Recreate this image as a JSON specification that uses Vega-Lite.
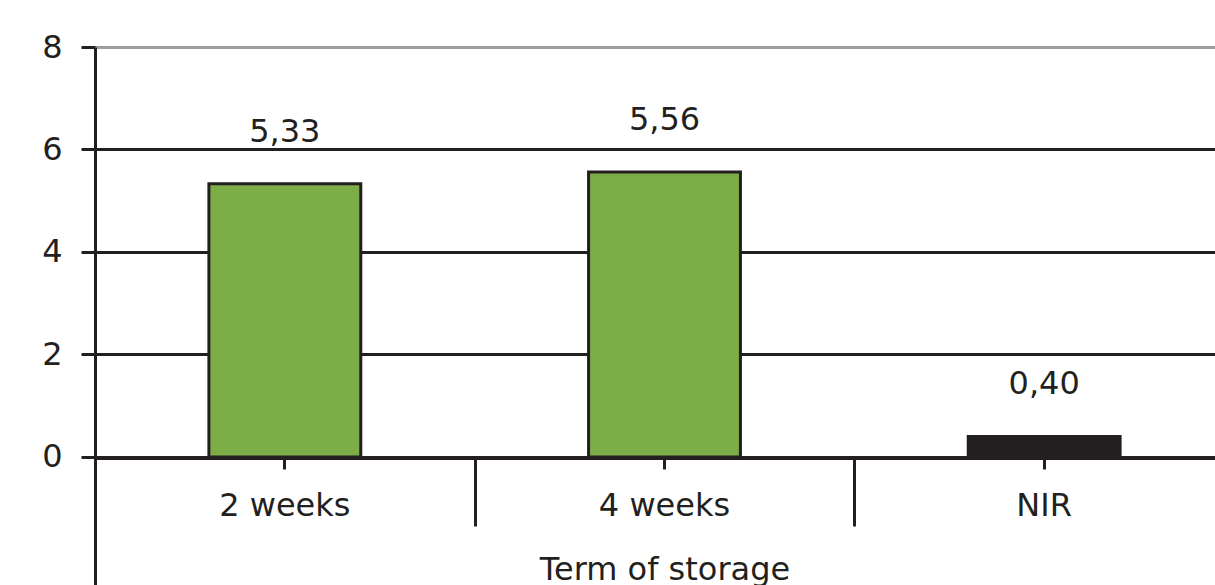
{
  "$schema": "https://vega.github.io/schema/vega-lite/v6.json",
  "width": 1139,
  "height": 538,
  "autosize": {"type": "none"},
  "padding": {"left": 95, "top": 47, "right": 0, "bottom": 0},
  "background": "white",
  "config": {
    "view": {"stroke": null},
    "font": "DejaVu Sans",
    "locale": {
      "number": {"decimal": ",", "thousands": ".", "grouping": [3], "currency": ["", ""]}
    },
    "axis": {"labelFont": "DejaVu Sans", "titleFont": "DejaVu Sans"}
  },
  "data": {
    "values": [
      {"term": "2 weeks", "value": 5.33, "kind": "measured"},
      {"term": "4 weeks", "value": 5.56, "kind": "measured"},
      {"term": "NIR", "value": 0.40, "kind": "nir"}
    ]
  },
  "layer": [
    {
      "mark": {"type": "bar", "stroke": "#231f20", "strokeWidth": 3},
      "encoding": {
        "x": {
          "field": "term",
          "type": "nominal",
          "sort": null,
          "scale": {"paddingInner": 0.6, "paddingOuter": 0.3},
          "axis": {
            "title": "Term of storage",
            "titleFontSize": 32,
            "titleFontWeight": "normal",
            "titleColor": "#231f20",
            "titlePadding": 33,
            "labelFontSize": 32,
            "labelColor": "#231f20",
            "labelPadding": 21,
            "labelAngle": 0,
            "domainColor": "#231f20",
            "domainWidth": 3,
            "tickColor": "#231f20",
            "tickWidth": 3,
            "tickSize": 11,
            "grid": false,
            "offset": -127
          }
        },
        "y": {
          "field": "value",
          "type": "quantitative",
          "scale": {"domain": [-2.5, 8], "nice": false},
          "axis": {
            "title": null,
            "values": [0, 2, 4, 6, 8],
            "format": "d",
            "labelFontSize": 32,
            "labelColor": "#231f20",
            "labelPadding": 19,
            "domainColor": "#231f20",
            "domainWidth": 3,
            "tickColor": "#231f20",
            "tickWidth": 3,
            "tickSize": 14,
            "grid": true,
            "gridWidth": 3,
            "gridColor": {
              "condition": {"test": "datum.value == 8", "value": "#9d9d9d"},
              "value": "#231f20"
            }
          }
        },
        "color": {
          "field": "kind",
          "type": "nominal",
          "scale": {"domain": ["measured", "nir"], "range": ["#7dad46", "#231f20"]},
          "legend": null
        }
      }
    },
    {
      "mark": {"type": "text", "fontSize": 32, "color": "#231f20", "baseline": "alphabetic", "dy": -42},
      "encoding": {
        "x": {"field": "term", "type": "nominal", "sort": null, "axis": null},
        "y": {"field": "value", "type": "quantitative", "axis": null},
        "text": {"field": "value", "type": "quantitative", "format": ".2f"}
      }
    },
    {
      "mark": {"type": "tick", "opacity": 0},
      "encoding": {
        "x": {
          "field": "term",
          "type": "nominal",
          "sort": null,
          "axis": {
            "orient": "bottom",
            "title": null,
            "labels": false,
            "domain": false,
            "grid": false,
            "bandPosition": 1,
            "tickOffset": 113.75,
            "tickColor": "#231f20",
            "tickWidth": 3,
            "tickSize": 68,
            "offset": -127
          }
        },
        "y": {"field": "value", "type": "quantitative", "axis": null}
      }
    }
  ],
  "resolve": {"axis": {"x": "independent", "y": "independent"}}
}
